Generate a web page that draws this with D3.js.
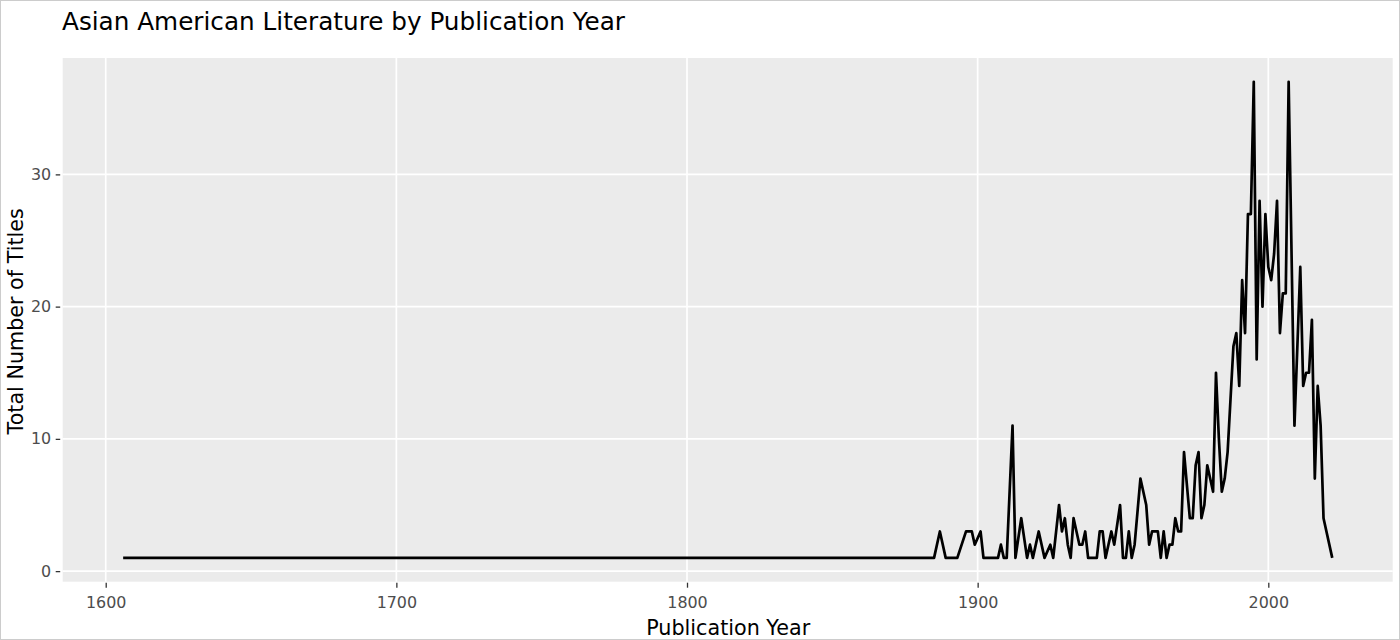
<!DOCTYPE html>
<html>
<head>
<meta charset="utf-8">
<script src="https://cdn.jsdelivr.net/npm/d3@7"></script>
<style>
  body { margin: 0; background: #fff; }
  svg { display: block; font-family: "DejaVu Sans", Verdana, sans-serif; }
</style>
</head>
<body>
<svg id="chart" width="1400" height="640"></svg>
<script>
// ---- data ----
const years = [1606, 1885, 1887, 1889, 1893, 1896, 1898, 1899, 1901, 1902,
  1907, 1908, 1909, 1910, 1912, 1913, 1915, 1917, 1918, 1919,
  1921, 1923, 1925, 1926, 1928, 1929, 1930, 1931, 1932, 1933,
  1934, 1935, 1936, 1937, 1938, 1941, 1942, 1943, 1944, 1945,
  1946, 1947, 1949, 1950, 1951, 1952, 1953, 1954, 1956, 1957,
  1958, 1959, 1960, 1961, 1962, 1963, 1964, 1965, 1966, 1967,
  1968, 1969, 1970, 1971, 1973, 1974, 1975, 1976, 1977, 1978,
  1979, 1980, 1981, 1982, 1983, 1984, 1985, 1986, 1987, 1988,
  1989, 1990, 1991, 1992, 1993, 1994, 1995, 1996, 1997, 1998,
  1999, 2000, 2001, 2002, 2003, 2004, 2005, 2006, 2007, 2008,
  2009, 2010, 2011, 2012, 2013, 2014, 2015, 2016, 2017, 2018,
  2019, 2022];
const totals = [1, 1, 3, 1, 1, 3, 3, 2, 3, 1,
  1, 2, 1, 1, 11, 1, 4, 1, 2, 1,
  3, 1, 2, 1, 5, 3, 4, 2, 1, 4,
  3, 2, 2, 3, 1, 1, 3, 3, 1, 2,
  3, 2, 5, 1, 1, 3, 1, 2, 7, 6,
  5, 2, 3, 3, 3, 1, 3, 1, 2, 2,
  4, 3, 3, 9, 4, 4, 8, 9, 4, 5,
  8, 7, 6, 15, 10, 6, 7, 9, 13, 17,
  18, 14, 22, 18, 27, 27, 37, 16, 28, 20,
  27, 23, 22, 24, 28, 18, 21, 21, 37, 24,
  11, 17, 23, 14, 15, 15, 19, 7, 14, 11,
  4, 1];
const xTicks = [1600, 1700, 1800, 1900, 2000];
const yTicks = [0, 10, 20, 30];
const titleText = "Asian American Literature by Publication Year";
const xTitle = "Publication Year";
const yTitle = "Total Number of Titles";

// ---- layout ----
const W = 1400, H = 640;
const P = { left: 62.7, right: 1392.7, top: 58, bottom: 581.7 };

const svg = d3.select("#chart");

// outer border
svg.append("rect").attr("x", 0.5).attr("y", 0.5)
  .attr("width", W - 1).attr("height", H - 1)
  .attr("fill", "#fff").attr("stroke", "#cccccc");

const xExt = d3.extent(years), yExt = d3.extent(totals);
const xPad = (xExt[1] - xExt[0]) * 0.05, yPad = (yExt[1] - yExt[0]) * 0.05;
const x = d3.scaleLinear().domain([xExt[0] - xPad, xExt[1] + xPad]).range([P.left, P.right]);
const y = d3.scaleLinear().domain([yExt[0] - yPad, yExt[1] + yPad]).range([P.bottom, P.top]);

// panel
svg.append("rect").attr("x", P.left).attr("y", P.top)
  .attr("width", P.right - P.left).attr("height", P.bottom - P.top)
  .attr("fill", "#ebebeb");

// gridlines
const grid = svg.append("g");
grid.selectAll(".gx").data(xTicks).join("line")
  .attr("x1", d => x(d)).attr("x2", d => x(d))
  .attr("y1", P.top).attr("y2", P.bottom)
  .attr("stroke", "#fff").attr("stroke-width", 1.7);
grid.selectAll(".gy").data(yTicks).join("line")
  .attr("x1", P.left).attr("x2", P.right)
  .attr("y1", d => y(d)).attr("y2", d => y(d))
  .attr("stroke", "#fff").attr("stroke-width", 1.7);

// line
const data = years.map((yr, i) => ({ year: yr, n: totals[i] }));
svg.append("path").datum(data)
  .attr("fill", "none").attr("stroke", "#000").attr("stroke-width", 2.7)
  .attr("stroke-linejoin", "round")
  .attr("d", d3.line().x(d => x(d.year)).y(d => y(d.n)));

// axes
const xAxis = svg.append("g").attr("transform", `translate(0,${P.bottom + 1})`)
  .call(d3.axisBottom(x).tickValues(xTicks).tickFormat(d3.format("d")).tickSize(5).tickPadding(9.5));
const yAxis = svg.append("g").attr("transform", `translate(${P.left - 2.5},0)`)
  .call(d3.axisLeft(y).tickValues(yTicks).tickSize(4.5).tickPadding(4.5));
[xAxis, yAxis].forEach(a => {
  a.select(".domain").remove();
  a.selectAll(".tick line").attr("stroke", "#333").attr("stroke-width", 1.3);
  a.selectAll(".tick text").attr("fill", "#4d4d4d")
    .style("font-size", "15.9px").style("font-family", "'DejaVu Sans', Verdana, sans-serif");
});

// titles
svg.append("text").attr("x", 62).attr("y", 29.5)
  .style("font-size", "24.7px").attr("fill", "#000").text(titleText);
svg.append("text").attr("x", (P.left + P.right) / 2 + 0.5).attr("y", 635)
  .attr("text-anchor", "middle").style("font-size", "20.7px").attr("fill", "#000").text(xTitle);
svg.append("text")
  .attr("transform", `translate(22.5,${(P.top + P.bottom) / 2 + 1.5}) rotate(-90)`)
  .attr("text-anchor", "middle").style("font-size", "20.7px").attr("fill", "#000").text(yTitle);
</script>
</body>
</html>
